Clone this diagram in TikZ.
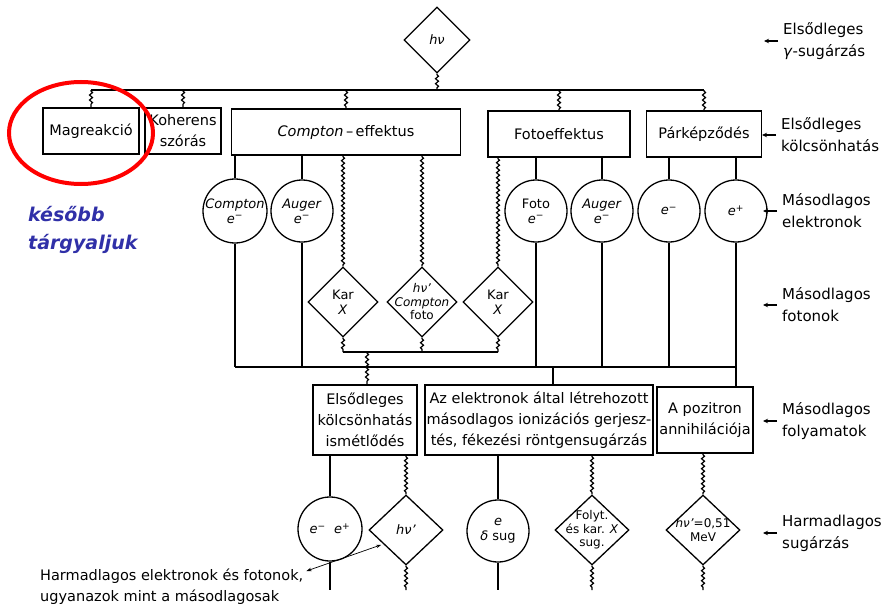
\documentclass[tikz,border=0pt]{standalone}
\usepackage{fontspec}
\setmainfont{DejaVu Sans}
\usepackage{xcolor}
\usetikzlibrary{shapes.geometric, arrows.meta, positioning, decorations.pathmorphing}

\definecolor{noteblue}{RGB}{48,48,168}
\newcommand{\elneg}{\textit{e}\textsuperscript{−}}
\newcommand{\elpos}{\textit{e}\textsuperscript{+}}

\begin{document}
\begin{tikzpicture}[x=1pt, y=-1pt,
    box/.style={rectangle, draw, line width=1.3pt, inner sep=1pt, align=center, font=\fontsize{14.5}{21}\selectfont},
    elec/.style={circle, draw, line width=1.3pt, minimum size=62pt, inner sep=0pt, align=center, font=\fontsize{13}{15}\selectfont},
    phot/.style={diamond, draw, line width=1.3pt, minimum width=70pt, minimum height=70pt, inner sep=0pt, align=center, font=\fontsize{13}{15}\selectfont},
    dlabel/.style={align=center, inner sep=0pt, font=\fontsize{12}{13.5}\selectfont},
    dtext/.style={label={[dlabel]center:{#1}}},
    wave/.style={line width=1.2pt, decorate, decoration={snake, amplitude=1.5pt, segment length=5pt, pre length=1pt, post length=1pt}},
    link/.style={line width=1.2pt},
    side/.style={anchor=west, align=left, inner sep=0pt, font=\fontsize{15}{22}\selectfont},
    sidearr/.style={-{Stealth[length=5pt, width=4.5pt]}, line width=1.5pt},
    dblarr/.style={{Stealth[length=5pt, width=3.5pt]}-{Stealth[length=5pt, width=3.5pt]}, line width=0.7pt}
]
\useasboundingbox (0,0) rectangle (886,610);

% Primary radiation
\node[phot, minimum width=66pt, minimum height=66pt] (hv) at (437,40) {\textit{hν}};
\coordinate (top) at (437,90);

% Primary interactions
\node[box, minimum width=96pt, minimum height=46pt] (mag) at (91,131) {Magreakció};
\node[box, minimum width=76pt, minimum height=46pt] (koh) at (183,131) {Koherens\\szórás};
\node[box, minimum width=229pt, minimum height=46pt] (comp) at (346,132) {\textit{Compton}\,–\,effektus};
\node[box, minimum width=142pt, minimum height=46pt] (foto) at (559,134) {Fotoeffektus};
\node[box, minimum width=115pt, minimum height=46pt] (par) at (704,134) {Párképződés};

\draw[wave] (hv.south) -- (top);
\draw[link] (mag.north |- top) -- (par.north |- top);
\foreach \b in {mag,koh,comp,foto,par}
  \draw[wave] (\b.north |- top) -- (\b.north);

% Secondary electrons
\node[elec] (ce) at (235,211) {\textit{Compton}\\\elneg};
\node[elec] (ae1) at (302,211) {\textit{Auger}\\\elneg};
\node[elec] (fe) at (536,211) {Foto\\\elneg};
\node[elec] (ae2) at (602,211) {\textit{Auger}\\\elneg};
\node[elec] (em) at (669,211) {\elneg};
\node[elec] (ep) at (736,211) {\elpos};

\foreach \c/\b in {ce/comp, ae1/comp, fe/foto, ae2/foto, em/par, ep/par}
  \draw[link] (\c.north |- \b.south) -- (\c.north);

% Secondary photons
\node[phot] (kx1) at (343,302) {Kar\\\textit{X}};
\node[phot, dtext={\textit{hν'}\\\textit{Compton}\\foto}] (hc) at (422,302) {};
\node[phot] (kx2) at (498,302) {Kar\\\textit{X}};

\draw[wave] (kx1.north |- comp.south) -- (kx1.north);
\draw[wave] (hc.north |- comp.south) -- (hc.north);
\draw[wave] (kx2.north |- foto.south) -- (kx2.north);

% Secondary processes
\node[box, minimum width=104pt, minimum height=70pt] (ism) at (365,420) {Elsődleges\\kölcsönhatás\\ismétlődés};
\node[box, minimum width=228pt, minimum height=70pt] (az) at (539,420) {Az elektronok által létrehozott\\másodlagos ionizációs gerjesz-\\tés, fékezési röntgensugárzás};
\node[box, minimum width=96pt, minimum height=66pt] (poz) at (705,420) {A pozitron\\annihilációja};

\coordinate (pbus) at (367,352);
\coordinate (ebus) at (553,367);
\foreach \d in {kx1,hc,kx2}
  \draw[wave] (\d.south) -- (\d.south |- pbus);
\draw[link] (kx1.south |- pbus) -- (kx2.south |- pbus);
\draw[wave] (pbus) -- (pbus |- ism.north);

\foreach \c in {ce,ae1,fe,ae2,em}
  \draw[link] (\c.south) -- (\c.south |- ebus);
\draw[link] (ce.south |- ebus) -- (ep.south |- ebus);
\draw[link] (ebus) -- (ebus |- az.north);
\draw[link] (ep.south) -- (ep.south |- poz.north);

% Tertiary radiation
\node[elec, minimum size=64pt] (ee) at (330,529) {\elneg\ \ \elpos};
\node[phot, minimum width=74pt] (hv2) at (406,530) {\textit{hν'}};
\node[elec] (ed) at (498,531) {\textit{e}\\\textit{δ} sug};
\node[phot, minimum width=74pt, dtext={Folyt.\\és kar. \textit{X}\\sug.}] (fk) at (592,530) {};
\node[phot, minimum width=74pt, dtext={\textit{hν'}=0,51\\MeV}] (an) at (703,530) {};

\draw[link] (ee.north |- ism.south) -- (ee.north);
\draw[wave] (hv2.north |- ism.south) -- (hv2.north);
\draw[link] (ed.north |- az.south) -- (ed.north);
\draw[wave] (fk.north |- az.south) -- (fk.north);
\draw[wave] (an.north |- poz.south) -- (an.north);

\coordinate (bot) at (0,590);
\draw[link] (ee.south) -- (ee.south |- bot);
\draw[link] (ed.south) -- (ed.south |- bot);
\foreach \d in {hv2,fk,an}
  \draw[wave] (\d.south) -- (\d.south |- bot);

% Note on tertiary particles
\node[anchor=north west, align=left, inner sep=0pt, font=\fontsize{14.5}{21}\selectfont] (harm) at (40,569) {Harmadlagos elektronok és fotonok,\\ugyanazok mint a másodlagosak};
\draw[dblarr] ([shift={(3,2)}]harm.north east) -- ([shift={(-6,-3)}]hv2.south west);

% Level labels
\node[side] (l1) at (783,41) {Elsődleges\\\textit{γ}-sugárzás};
\node[side] (l2) at (781,135) {Elsődleges\\kölcsönhatás};
\node[side] (l3) at (782,211) {Másodlagos\\elektronok};
\node[side] (l4) at (782,305) {Másodlagos\\fotonok};
\node[side] (l5) at (782,421) {Másodlagos\\folyamatok};
\node[side] (l6) at (782,533) {Harmadlagos\\sugárzás};
\foreach \l in {l1,l2,l3,l4,l5,l6}
  \draw[sidearr] ([xshift=-5pt]\l.west) -- ([xshift=-19pt]\l.west);

% Highlight
\node[ellipse, draw=red, line width=4pt, minimum width=144pt, minimum height=102pt] (mark) at (81,133) {};
\node[anchor=north west, align=left, inner sep=0pt, text=noteblue, font=\fontsize{19}{28}\bfseries\itshape\selectfont] (later) at (28,206) {később\\tárgyaljuk};
\end{tikzpicture}
\end{document}
